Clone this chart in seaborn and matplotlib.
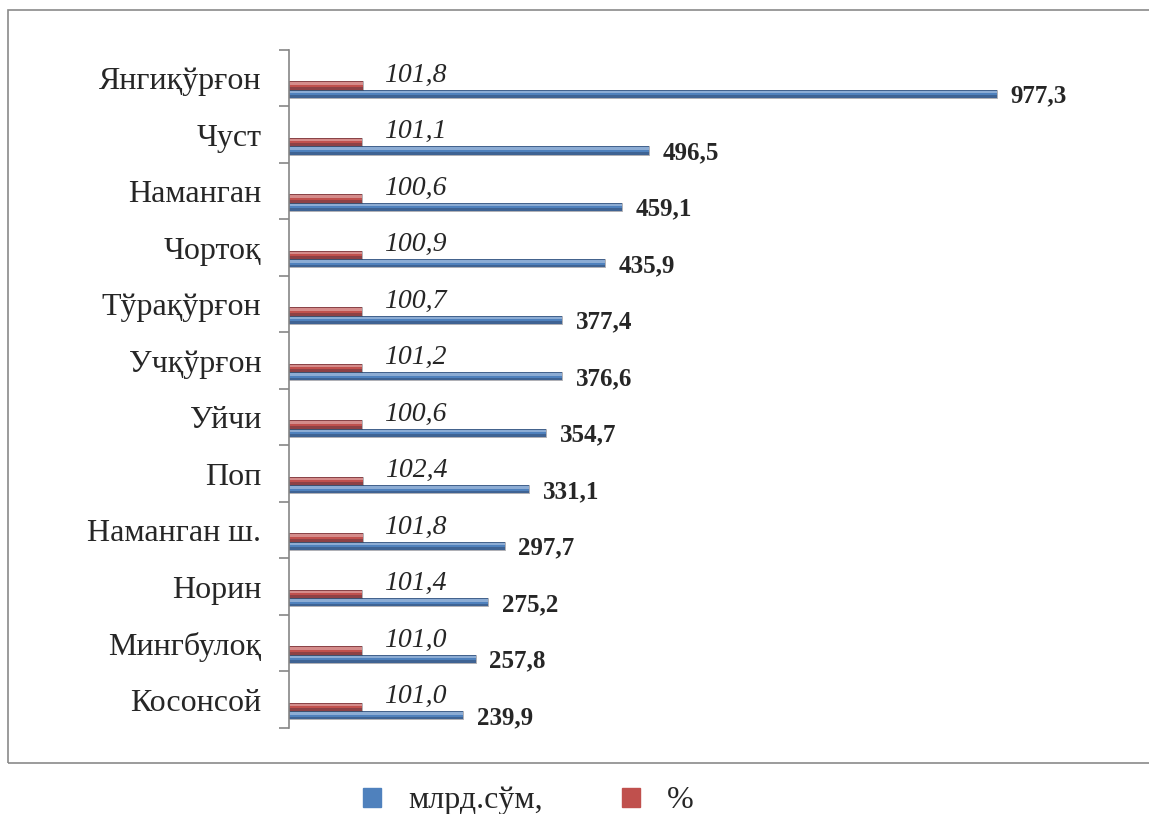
import pandas as pd
import matplotlib.pyplot as plt
import matplotlib.patches as mpatches
import seaborn as sns

# Chart data
districts = ["Янгиқўрғон", "Чуст", "Наманган", "Чортоқ", "Тўрақўрғон", "Учқўрғон",
             "Уйчи", "Поп", "Наманган ш.", "Норин", "Мингбулоқ", "Косонсой"]
volume_bln = [977.3, 496.5, 459.1, 435.9, 377.4, 376.6, 354.7, 331.1, 297.7, 275.2, 257.8, 239.9]
growth_pct = [101.8, 101.1, 100.6, 100.9, 100.7, 101.2, 100.6, 102.4, 101.8, 101.4, 101.0, 101.0]
series_names = ["млрд.сўм,", "%"]

blue = "#4F81BD"
red = "#C0504D"

df = pd.concat([
    pd.DataFrame({"district": districts, "value": volume_bln, "series": series_names[0]}),
    pd.DataFrame({"district": districts, "value": growth_pct, "series": series_names[1]}),
])

sns.set_style("white")
plt.rcParams["font.family"] = ["Liberation Serif", "DejaVu Serif"]

fig = plt.figure(figsize=(11.49, 8.14), dpi=100)
ax = fig.add_axes([0.2515, 0.1057, 0.72, 0.8329])

sns.barplot(data=df, x="value", y="district", hue="series",
            hue_order=["%", "млрд.сўм,"], order=districts,
            palette={"%": red, "млрд.сўм,": blue},
            width=0.3, orient="h", ax=ax, legend=False,
            edgecolor="none", saturation=1)

# bars sit a bit below the category centre, with a bevelled look
shift = 0.2
for p in list(ax.patches):
    p.set_y(p.get_y() + shift)
    x0, y0 = p.get_x(), p.get_y()
    w, h = p.get_width(), p.get_height()
    ax.add_patch(mpatches.Rectangle((x0, y0 + h * 0.7), w, h * 0.3,
                                    color=(0.1, 0.12, 0.2, 0.3), lw=0))
    ax.add_patch(mpatches.Rectangle((x0, y0 + h * 0.12), w, h * 0.3,
                                    color=(1, 1, 1, 0.35), lw=0))
    ax.add_patch(mpatches.Rectangle((x0, y0), w, h, fill=False,
                                    ec=(0.2, 0.2, 0.25, 0.45), lw=0.6))

# value labels
for i, (v, g) in enumerate(zip(volume_bln, growth_pct)):
    ax.text(v + 19, i + shift + 0.12, f"{v:.1f}".replace(".", ","), fontsize=18,
            fontweight="bold", va="center", ha="left")
    ax.text(g + 30, i - 0.05, f"{g:.1f}".replace(".", ","), fontsize=20,
            fontstyle="italic", va="center", ha="left")

ax.set_xlim(0, 1142)
ax.set_ylim(len(districts) - 0.5, -0.5)
ax.set_xlabel("")
ax.set_ylabel("")
ax.set_xticks([])
for s in ["top", "right", "bottom"]:
    ax.spines[s].set_visible(False)
ax.spines["left"].set_color("#868686")
ax.spines["left"].set_linewidth(1.2)
ax.tick_params(axis="y", which="major", length=0, labelsize=23, pad=20)
ax.set_yticks([i - 0.5 for i in range(len(districts) + 1)], minor=True)
ax.tick_params(axis="y", which="minor", left=True, length=7, color="#868686", width=1.2)

# outer chart frame
frame = mpatches.Rectangle((0.007, 0.0627), 1.1, 0.925, transform=fig.transFigure,
                           fill=False, ec="#8a8a8a", lw=1.2)
fig.add_artist(frame)

handles = [mpatches.Patch(color=blue, label=series_names[0]),
           mpatches.Patch(color=red, label=series_names[1])]
fig.legend(handles=handles, loc="center", bbox_to_anchor=(0.46, 0.016), ncol=2,
           frameon=False, fontsize=23, handlelength=0.55, handleheight=0.55,
           columnspacing=2.5, handletextpad=0.85)

fig.savefig("out.png", dpi=100)
